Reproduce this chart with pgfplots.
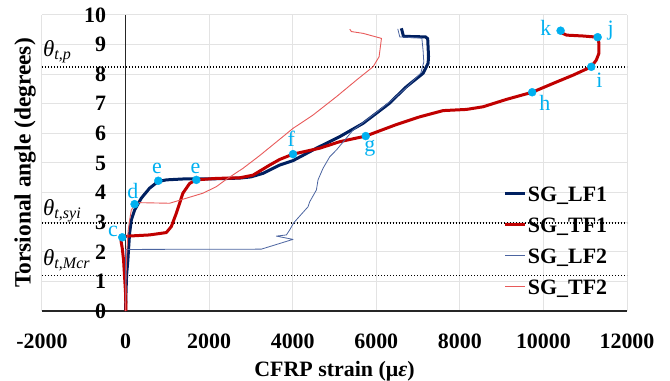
\documentclass[border=0pt]{standalone}
\usepackage{fontspec}
\setmainfont{Liberation Serif}
\usepackage{pgfplots}
\pgfplotsset{compat=1.18}
\usetikzlibrary{calc}
\definecolor{lfone}{RGB}{0,32,96}
\definecolor{tfone}{RGB}{192,0,0}
\definecolor{lftwo}{RGB}{75,100,160}
\definecolor{tftwo}{RGB}{232,90,90}
\definecolor{mk}{RGB}{0,176,240}
\newcommand{\fs}{\fontsize{22}{26}\selectfont}
\begin{document}
\begin{tikzpicture}
\begin{axis}[
 scale only axis, width=585bp, height=296bp,
 xmin=-2000, xmax=12000, ymin=0, ymax=10,
 xtick={-2000,0,...,12000}, ytick={0,1,...,10},
 scaled x ticks=false, scaled y ticks=false,
 axis x line=bottom, axis y line=middle,
 axis line style={-, line width=1.5bp, black!85},
 hide obscured x ticks=false, hide obscured y ticks=false,
 major tick length=0pt,
 grid=major, major grid style={line width=1bp, gray!22},
 /pgf/number format/assume math mode=true,
 /pgf/number format/1000 sep={},
 ticklabel style={font=\fs\bfseries},
 xticklabel style={yshift=-19bp},
 yticklabel style={xshift=-16bp},
 xlabel={CFRP strain (μ\textit{ε})},
 ylabel={Torsional angle (degrees)},
 every axis x label/.style={at={(axis description cs:0.5,-0.2027)}, anchor=center, font=\fs\bfseries},
 every axis y label/.style={at={(axis description cs:-0.029,0.5)}, anchor=center, rotate=90, font=\fontsize{23.5}{26}\selectfont\bfseries},
 legend style={draw=none, fill=none, font=\fs\bfseries, at={(axis cs:9050,4.22)}, anchor=north west, inner sep=0pt, row sep=13bp, nodes={inner sep=1bp}, /tikz/every even column/.append style={column sep=0pt}},
 legend cell align=left,
 legend image code/.code={\draw[#1] (0bp,2bp) -- (20bp,2bp);},
 clip=false,
]
% threshold lines
\addplot[forget plot, black, line width=1.2bp, dash pattern=on 1.2bp off 1.8bp] coordinates {(-2000,8.24) (12000,8.24)};
\addplot[forget plot, black, line width=1.2bp, dash pattern=on 1.2bp off 1.8bp] coordinates {(-2000,2.97) (12000,2.97)};
\addplot[forget plot, black, line width=1.2bp, dash pattern=on 1.2bp off 1.8bp] coordinates {(-2000,1.19) (12000,1.19)};

% SG_LF1
\addplot[lfone, line width=3bp, line join=round] coordinates {
(0,0) (10,0.6) (24,1.2) (55,1.72) (96,2.62) (137,3.07) (216,3.41) (376,3.81) (575,4.15) (774,4.37) (975,4.43) (1372,4.46) (1693,4.46) (2300,4.47) (2730,4.49) (3000,4.53) (3289,4.65) (3688,4.93) (4007,5.08) (4567,5.50) (5125,5.89) (5684,6.34) (6300,7.0) (6723,7.58) (7120,8.03) (7240,8.37) (7250,8.6) (7230,9.2) (7180,9.26) (6650,9.28) (6620,9.45) (6600,9.55)};
\addlegendentry{SG\_LF1}
% SG_TF1
\addplot[tfone, line width=3bp, line join=round] coordinates {
(10,0) (0,0.6) (-24,1.16) (-48,1.72) (-79,2.12) (-108,2.36) (-79,2.49) (55,2.53) (575,2.57) (975,2.65) (1094,2.85) (1214,3.30) (1293,3.64) (1372,3.98) (1533,4.31) (1693,4.43) (2172,4.48) (2730,4.50) (3050,4.59) (3449,4.93) (3688,5.12) (4008,5.30) (4647,5.50) (4886,5.61) (5125,5.72) (5748,5.91) (6483,6.30) (7041,6.56) (7599,6.77) (8160,6.81) (8557,6.90) (9118,7.15) (9731,7.39) (10234,7.69) (10713,7.97) (11145,8.25) (11266,8.48) (11329,8.71) (11329,9.04) (11298,9.25) (10952,9.29) (10555,9.32) (10459,9.38) (10411,9.47)};
\addlegendentry{SG\_TF1}
% SG_LF2
\addplot[lftwo, line width=0.8bp, line join=round] coordinates {
(0,0) (0,2.08) (50,2.08) (3250,2.09) (4007,2.42) (3609,2.53) (3849,2.57) (3928,2.74) (4024,2.98) (4366,3.52) (4407,3.69) (4567,4.09) (4606,4.43) (4725,4.82) (4886,5.21) (5046,5.44) (5443,6.11) (5923,6.62) (6323,7.07) (6706,7.53) (7066,8.04) (7137,8.41) (7120,8.8) (7090,9.22) (6562,9.26) (6514,9.53)};
\addlegendentry{SG\_LF2}
% SG_TF2
\addplot[tftwo, line width=0.9bp, line join=round] coordinates {
(0,0) (10,1.0) (30,2.0) (60,2.7) (100,3.1) (137,3.41) (216,3.58) (335,3.66) (1054,3.64) (1453,3.81) (1852,3.98) (2172,4.20) (2412,4.45) (2810,4.82) (3209,5.25) (3609,5.71) (4007,6.17) (4486,6.62) (5046,7.24) (5525,7.80) (5923,8.25) (6067,8.59) (6124,9.21) (5684,9.38) (5405,9.44) (5365,9.52)};
\addlegendentry{SG\_TF2}

% markers
\addplot[forget plot, only marks, mark=*, mark size=4bp, mark options={draw=mk, fill=mk}] coordinates {
(-80,2.49) (216,3.61) (783,4.40) (1693,4.43) (4008,5.30) (5748,5.91) (9731,7.39) (11145,8.25) (11298,9.25) (10411,9.47)};

\node[mk, font=\fs] at (axis cs:-304,2.68) {c};
\node[mk, font=\fs] at (axis cs:175,4.06) {d};
\node[mk, font=\fs] at (axis cs:750,4.80) {e};
\node[mk, font=\fs] at (axis cs:1676,4.80) {e};
\node[mk, font=\fs] at (axis cs:3968,5.81) {f};
\node[mk, font=\fs] at (axis cs:5844,5.50) {g};
\node[mk, font=\fs] at (axis cs:10035,7.02) {h};
\node[mk, font=\fs] at (axis cs:11337,7.80) {i};
\node[mk, font=\fs] at (axis cs:11608,9.47) {j};
\node[mk, font=\fs] at (axis cs:10059,9.58) {k};

\node[anchor=base west, inner sep=0pt, font=\fontsize{23}{26}\selectfont] at (axis cs:-1975,8.61) {\textit{θ}\textsubscript{\textit{t,p}}};
\node[anchor=base west, inner sep=0pt, font=\fontsize{23}{26}\selectfont] at (axis cs:-1975,3.24) {\textit{θ}\textsubscript{\textit{t,syi}}};
\node[anchor=base west, inner sep=0pt, font=\fontsize{23}{26}\selectfont] at (axis cs:-1975,1.55) {\textit{θ}\textsubscript{\textit{t,Mcr}}};
\end{axis}
\pgfresetboundingbox
\path[use as bounding box] ($(current axis.south west)+(-42bp,-70bp)$) rectangle ($(current axis.north east)+(43bp,15bp)$);
\end{tikzpicture}
\end{document}
